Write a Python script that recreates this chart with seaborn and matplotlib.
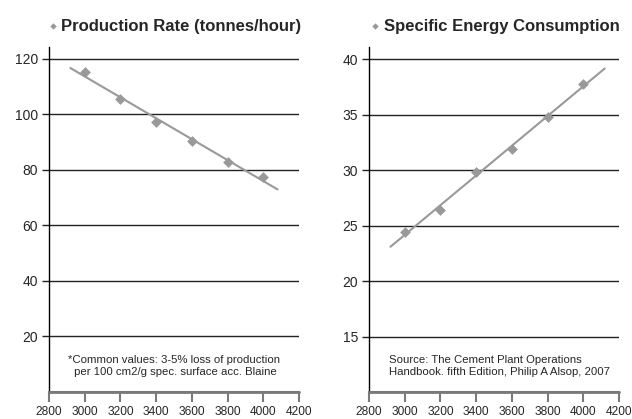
import numpy as np
import pandas as pd
import seaborn as sns
from matplotlib import pyplot as plt

blaine = [3000, 3200, 3400, 3600, 3800, 4000]
production_rate = [115.4, 105.4, 97.3, 90.6, 83.0, 77.4]
energy_consumption = [24.45, 26.4, 29.85, 31.9, 34.8, 37.75]

x_ticks = [2800, 3000, 3200, 3400, 3600, 3800, 4000, 4200]
prod_ticks = [20, 40, 60, 80, 100, 120]
energy_ticks = [15, 20, 25, 30, 35, 40]

prod_title = "Production Rate (tonnes/hour)"
energy_title = "Specific Energy Consumption"
prod_note = "*Common values: 3-5% loss of production\n per 100 cm2/g spec. surface acc. Blaine"
energy_note = "Source: The Cement Plant Operations\nHandbook. fifth Edition, Philip A Alsop, 2007"

# trend line forecast (backward, forward) like the spreadsheet trendline
prod_forecast = (80, 80)
energy_forecast = (80, 120)

sns.set_style("ticks")
plt.rcParams["font.family"] = ["Liberation Sans", "DejaVu Sans"]

GREY = "#999999"
AXIS_GREY = "#7a7a7a"

df = pd.DataFrame({"blaine": blaine, "prod": production_rate, "energy": energy_consumption})

fig = plt.figure(figsize=(6.32, 4.19), dpi=100)
ax1 = fig.add_axes([49 / 632, 27 / 419, 250 / 632, 345 / 419])
ax2 = fig.add_axes([369 / 632, 27 / 419, 250 / 632, 345 / 419])


def draw(ax, col, title, forecast, ticks, ylim, note, note_xy, note_ha):
    coef = np.polyfit(df["blaine"], df[col], 1)
    tx = np.array([df["blaine"].min() - forecast[0], df["blaine"].max() + forecast[1]])
    trend = pd.DataFrame({"x": tx, "y": np.polyval(coef, tx)})
    sns.lineplot(data=trend, x="x", y="y", color=GREY, lw=1.5, ax=ax, legend=False)
    sns.scatterplot(data=df, x="blaine", y=col, marker="D", s=30, color=GREY,
                    edgecolor=GREY, linewidth=0, ax=ax, label=title, zorder=3)
    ax.set_xlim(2800, 4200)
    ax.set_ylim(*ylim)
    ax.set_xticks(x_ticks)
    ax.set_yticks(ticks)
    ax.set_xlabel("")
    ax.set_ylabel("")
    for t in ticks:
        ax.axhline(t, color="#222222", lw=1.0, zorder=1)
    # category axis line at the bottom
    ax.axhline(ylim[0], color=AXIS_GREY, lw=2.0, zorder=4, clip_on=False)
    for s in ["top", "right"]:
        ax.spines[s].set_visible(False)
    ax.spines["left"].set_color("black")
    ax.spines["left"].set_linewidth(1.0)
    ax.spines["bottom"].set_color(AXIS_GREY)
    ax.spines["bottom"].set_linewidth(1.5)
    ax.tick_params(axis="x", bottom=True, direction="out", length=7, width=1.5,
                   color=AXIS_GREY, labelsize=8.6, pad=3)
    ax.tick_params(axis="y", left=True, direction="out", length=5, width=1.0,
                   color="#222222", labelsize=10, pad=3)
    ax.text(note_xy[0], note_xy[1], note, transform=ax.transAxes, ha=note_ha, va="center",
            fontsize=8.2, linespacing=1.2)
    ax.legend(loc="lower center", bbox_to_anchor=(0.5, 1.01), frameon=False,
              prop={"weight": "bold", "size": 12}, handletextpad=0.1,
              borderaxespad=0.2, markerscale=0.6, handlelength=0.8)


draw(ax1, "prod", prod_title, prod_forecast, prod_ticks, (0, 124.3), prod_note,
     (0.5, 0.075), "center")
draw(ax2, "energy", energy_title, energy_forecast, energy_ticks, (10, 41.1), energy_note,
     (0.08, 0.075), "left")

fig.savefig("out.png", dpi=100)
